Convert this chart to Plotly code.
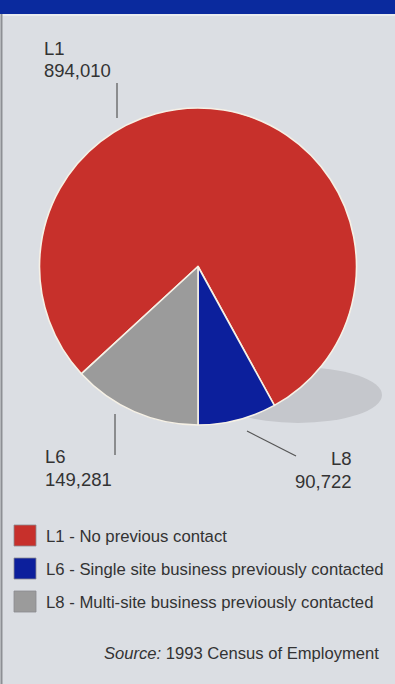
import plotly.graph_objects as go

# Slices, in clockwise drawing order (red, blue, grey)
slice_codes = ["L1", "L8", "L6"]
slice_values = [894010, 90722, 149281]
slice_colors = ["#c7302b", "#0c1f9c", "#9b9b9b"]

# Legend entries
legend_codes = ["L1", "L6", "L8"]
legend_texts = [
    "No previous contact",
    "Single site business previously contacted",
    "Multi-site business previously contacted",
]
legend_colors = ["#c7302b", "#0c1f9c", "#9b9b9b"]

source_text = "<i>Source:</i> 1993 Census of Employment"

W, H = 395, 684
BG = "#dbdee3"
TXT = "#333333"
FONT = "Liberation Sans, Arial, sans-serif"


def px(x):
    return x / W


def py(y):
    return 1 - y / H


total = sum(slice_values)
# grey slice ends exactly at 6 o'clock
rotation = 180 + 360 * slice_values[2] / total

cx, cy, r = 198, 266.5, 158.5

fig = go.Figure()
fig.add_trace(go.Pie(
    labels=slice_codes,
    values=slice_values,
    sort=False,
    direction="clockwise",
    rotation=rotation,
    marker=dict(colors=slice_colors, line=dict(color="#f6f1e6", width=1.6)),
    textinfo="none",
    hoverinfo="label+value",
    showlegend=False,
    domain=dict(x=[px(cx - r), px(cx + r)], y=[py(cy + r), py(cy - r)]),
))

shapes = [
    # header band
    dict(type="rect", xref="paper", yref="paper", x0=0, x1=1, y0=py(14), y1=1,
         fillcolor="#0a2a9e", line=dict(width=0), layer="below"),
    dict(type="line", xref="paper", yref="paper", x0=0, x1=1, y0=py(15), y1=py(15),
         line=dict(color="#eef0f3", width=1.5), layer="below"),
    # left edge
    dict(type="line", xref="paper", yref="paper", x0=px(1.5), x1=px(1.5), y0=0, y1=py(14),
         line=dict(color="#8d8f94", width=2), layer="below"),
    # drop shadow under the pie
    dict(type="circle", xref="paper", yref="paper", x0=px(214), x1=px(382),
         y0=py(423), y1=py(367), fillcolor="#c5c7cc", line=dict(width=0), layer="below"),
    # leader lines
    dict(type="line", xref="paper", yref="paper", x0=px(117), x1=px(117), y0=py(83), y1=py(118),
         line=dict(color="#555555", width=1.2)),
    dict(type="line", xref="paper", yref="paper", x0=px(115), x1=px(115), y0=py(414), y1=py(455),
         line=dict(color="#555555", width=1.2)),
    dict(type="line", xref="paper", yref="paper", x0=px(247), x1=px(296), y0=py(431), y1=py(456),
         line=dict(color="#555555", width=1.2)),
]

annotations = []


def label(text, x, y, anchor="left", size=18.5, **kw):
    annotations.append(dict(
        text=text, xref="paper", yref="paper", x=px(x), y=py(y),
        xanchor=anchor, yanchor="middle", showarrow=False,
        font=dict(family=FONT, size=size, color=TXT), **kw))


# slice labels
label(slice_codes[0], 42, 48)
label(f"{slice_values[0]:,}", 42, 70.5)
label(slice_codes[2], 43, 456.5)
label(f"{slice_values[2]:,}", 43, 479.5)
label(slice_codes[1], 354, 458, anchor="right")
label(f"{slice_values[1]:,}", 354, 481.5, anchor="right")

# legend
for i, (code, text, col) in enumerate(zip(legend_codes, legend_texts, legend_colors)):
    y0 = 525 + i * 33
    shapes.append(dict(type="rect", xref="paper", yref="paper",
                       x0=px(14), x1=px(36), y0=py(y0 + 21), y1=py(y0),
                       fillcolor=col, line=dict(color="#8a8c90", width=0.8)))
    label(f"{code} - {text}", 44, y0 + 11.5, size=16.7)

label(source_text, 381, 653, anchor="right", size=16.6)

fig.update_layout(
    width=W, height=H,
    margin=dict(l=0, r=0, t=0, b=0),
    paper_bgcolor=BG, plot_bgcolor=BG,
    shapes=shapes, annotations=annotations,
)

fig.write_html("out.html")
